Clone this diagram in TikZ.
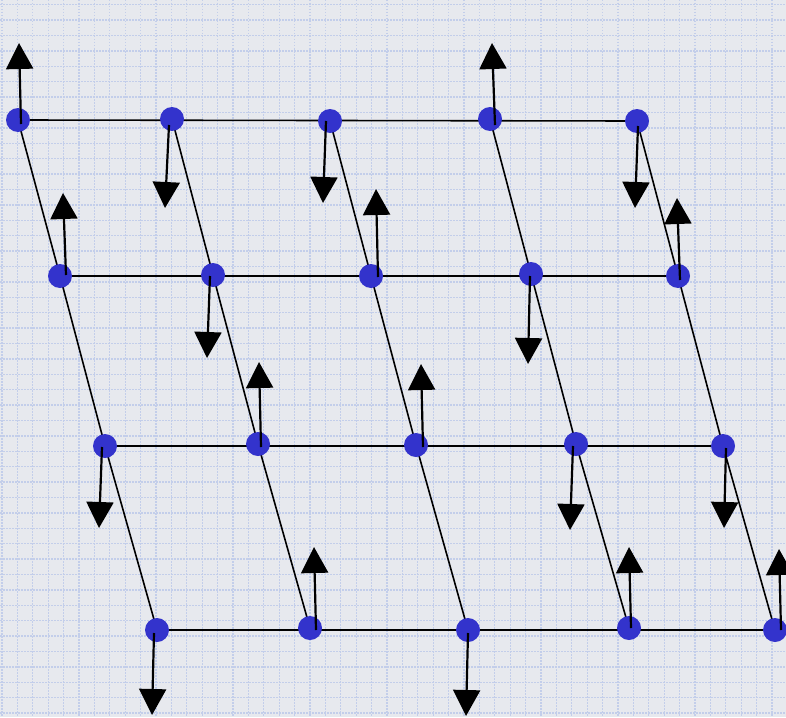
\documentclass[tikz,border=0pt]{standalone}
\usepackage{tikz}
\usetikzlibrary{arrows.meta,backgrounds}
\definecolor{paperbg}{HTML}{E7E9EE}
\definecolor{gridblue}{HTML}{C3CEEA}
\definecolor{spinblue}{HTML}{3333CC}

\begin{document}
\begin{tikzpicture}[x=1pt,y=-1pt,
  spin/.style={circle,fill=spinblue,minimum size=24pt,inner sep=0pt},
  bond/.style={line width=1.6pt,black},
  gridline/.style={gridblue,line width=1.3pt,dash pattern=on 1.5pt off 1.5pt},
  spinarrow/.style={line width=2.2pt,-{Triangle[length=26pt,width=27pt]}}]
\useasboundingbox (0,0) rectangle (786,717);
\clip (0,0) rectangle (786,717);
% spins
\node[spin] (n11) at (18,120) {};
\node[spin] (n12) at (172,119) {};
\node[spin] (n13) at (330,121) {};
\node[spin] (n14) at (490,119) {};
\node[spin] (n15) at (637,121) {};
\node[spin] (n21) at (60,276) {};
\node[spin] (n22) at (213,275) {};
\node[spin] (n23) at (371,276) {};
\node[spin] (n24) at (531,274) {};
\node[spin] (n25) at (678,276) {};
\node[spin] (n31) at (105,446) {};
\node[spin] (n32) at (258,444) {};
\node[spin] (n33) at (416,445) {};
\node[spin] (n34) at (576,444) {};
\node[spin] (n35) at (723,446) {};
\node[spin] (n41) at (157,630) {};
\node[spin] (n42) at (310,628) {};
\node[spin] (n43) at (468,630) {};
\node[spin] (n44) at (629,628) {};
\node[spin] (n45) at (775,630) {};
% paper and bonds behind the spins
\begin{scope}[on background layer]
\fill[paperbg] (0,0) rectangle (786,717);
\foreach \i in {0,...,51} \draw[gridline] (2+15.4*\i,0) -- (2+15.4*\i,717);
\foreach \j in {0,...,46} \draw[gridline] (0,4.7+15.4*\j) -- (786,4.7+15.4*\j);
\foreach \r in {1,...,4} \draw[bond] (n\r1.center) -- (n\r5.center);
\foreach \c in {1,...,5} \draw[bond] (n1\c.center) -- (n2\c.center) -- (n3\c.center) -- (n4\c.center);
\end{scope}
% arrow tips
\coordinate (t11) at (19,43);
\coordinate (t12) at (165,208);
\coordinate (t13) at (323,203);
\coordinate (t14) at (492,43);
\coordinate (t15) at (635,208);
\coordinate (t21) at (63,193);
\coordinate (t22) at (207,358);
\coordinate (t23) at (376,189);
\coordinate (t24) at (528,364);
\coordinate (t25) at (677,198);
\coordinate (t31) at (99,528);
\coordinate (t32) at (259,362);
\coordinate (t33) at (421,364);
\coordinate (t34) at (570,530);
\coordinate (t35) at (724,528);
\coordinate (t41) at (152,715);
\coordinate (t42) at (314,547);
\coordinate (t43) at (466,716);
\coordinate (t44) at (629,547);
\coordinate (t45) at (779,549);
\draw[spinarrow] ([xshift=3pt,yshift=-4pt]n11.center) -- (t11);
\draw[spinarrow] ([xshift=-3pt,yshift=-6pt]n12.center) -- (t12);
\draw[spinarrow] ([xshift=-4pt]n13.center) -- (t13);
\draw[spinarrow] ([xshift=5pt,yshift=-6pt]n14.center) -- (t14);
\draw[spinarrow] ([xshift=1pt,yshift=-5pt]n15.center) -- (t15);
\draw[spinarrow] ([xshift=6pt,yshift=1pt]n21.center) -- (t21);
\draw[spinarrow] ([xshift=-3pt,yshift=-1pt]n22.center) -- (t22);
\draw[spinarrow] ([xshift=7pt,yshift=-1pt]n23.center) -- (t23);
\draw[spinarrow] ([xshift=-1pt,yshift=-2pt]n24.center) -- (t24);
\draw[spinarrow] ([xshift=2pt,yshift=-4pt]n25.center) -- (t25);
\draw[spinarrow] ([xshift=-3pt,yshift=-1pt]n31.center) -- (t31);
\draw[spinarrow] ([xshift=3pt,yshift=-3pt]n32.center) -- (t32);
\draw[spinarrow] ([xshift=7pt,yshift=-2pt]n33.center) -- (t33);
\draw[spinarrow] ([xshift=-3pt,yshift=-2pt]n34.center) -- (t34);
\draw[spinarrow] ([xshift=3pt,yshift=-2pt]n35.center) -- (t35);
\draw[spinarrow] ([xshift=-3pt,yshift=-3pt]n41.center) -- (t41);
\draw[spinarrow] ([xshift=6pt,yshift=-2pt]n42.center) -- (t42);
\draw[spinarrow] ([yshift=-3pt]n43.center) -- (t43);
\draw[spinarrow] ([xshift=2pt]n44.center) -- (t44);
\draw[spinarrow] ([xshift=6pt]n45.center) -- (t45);
\end{tikzpicture}
\end{document}
